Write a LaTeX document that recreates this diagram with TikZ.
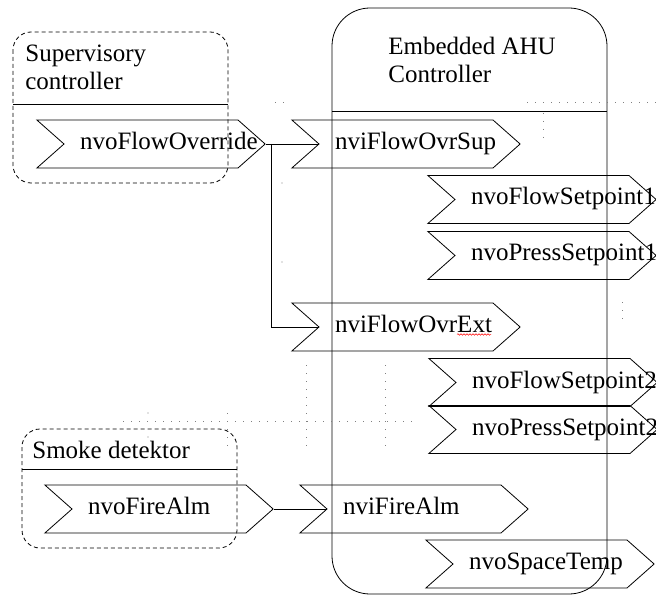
\documentclass[tikz,border=0pt]{standalone}
\usepackage{fontspec}
\setmainfont{Liberation Serif}
\usetikzlibrary{shapes.symbols,decorations.pathmorphing}

\begin{document}
\begin{tikzpicture}[x=1pt, y=-1pt, line width=0.8pt,
  port/.style={signal, signal from=west, signal to=east, signal pointer angle=83,
    draw, minimum height=48pt, text width=142pt, inner xsep=16pt, inner ysep=0pt,
    text height=16pt, text depth=5pt, align=left, font=\fontsize{25}{28}\selectfont},
  device/.style={draw, rounded corners=18pt, dash pattern=on 4pt off 3pt},
  title/.style={anchor=base west, inner sep=0pt, align=left, font=\fontsize{25}{28}\selectfont},
  grid/.style={gray, line width=1pt, dash pattern=on 1pt off 7pt}]

  \useasboundingbox (0,0) rectangle (656,604);

  % Devices
  \draw[device] (13,32) rectangle (228,183);
  \draw (13,104) -- (228,104);
  \draw[device] (22,429) rectangle (237,548);
  \draw (22,469) -- (237,469);
  \draw[rounded corners=38pt] (332,8) rectangle (607,594);
  \draw (332,111) -- (607,111);

  % Titles
  \node[title] (SupTitle) at (25,90) {Supervisory\\controller};
  \node[title] (AhuTitle) at (388,83) {Embedded AHU\\Controller};
  \node[title] (SmokeTitle) at (32,458) {Smoke detektor};

  % Network variables
  \node[port] (SupOvr) at (151,144) {\mbox{nvoFlowOverride}};
  \node[port] (AhuSup) at (406,144) {\mbox{nviFlowOvrSup}};
  \node[port] (Flow1) at (542,199.5) {\mbox{nvoFlowSetpoint1}};
  \node[port] (Press1) at (542,255.5) {\mbox{nvoPressSetpoint1}};
  \node[port] (AhuExt) at (406,327) {\mbox{nviFlowOvrExt}};
  \node[port] (Flow2) at (543,382.5) {\mbox{nvoFlowSetpoint2}};
  \node[port] (Press2) at (543,429.5) {\mbox{nvoPressSetpoint2}};
  \node[port] (FireOut) at (159,509) {\mbox{nvoFireAlm}};
  \node[port] (AhuFire) at (414,509) {\mbox{nviFireAlm}};
  \node[port] (Space) at (540,564) {\mbox{nvoSpaceTemp}};

  % Bindings
  \draw (SupOvr.east) -- (AhuSup.west);
  \coordinate (split) at ([xshift=6pt]SupOvr.east);
  \draw (split) |- (AhuExt.west);
  \draw (FireOut.east) -- (AhuFire.west);

  % spell check mark
  \draw[red, line width=0.5pt, decorate, decoration={snake, amplitude=0.8pt, segment length=3pt}]
    ([shift={(51pt,-7.5pt)}]AhuExt.center) -- ([shift={(85pt,-7.5pt)}]AhuExt.center);

  % Grid dots
  \draw[grid] (527,103) -- (656,103);
  \draw[grid] (543,113) -- (543,145);
  \draw[grid] (275,103) -- (284,103);
  \draw[grid] (622,302) -- (622,326);
  \draw[grid] (123,421) -- (418,421);
  \draw[grid] (306,365) -- (306,453);
  \draw[grid] (385,365) -- (385,453);
  \draw[grid] (227,413) -- (227,453);
  \fill[gray] (282,183) circle (0.6) (282,262) circle (0.6)
    (148,413) circle (0.6) (148,437) circle (0.6);

\end{tikzpicture}
\end{document}
